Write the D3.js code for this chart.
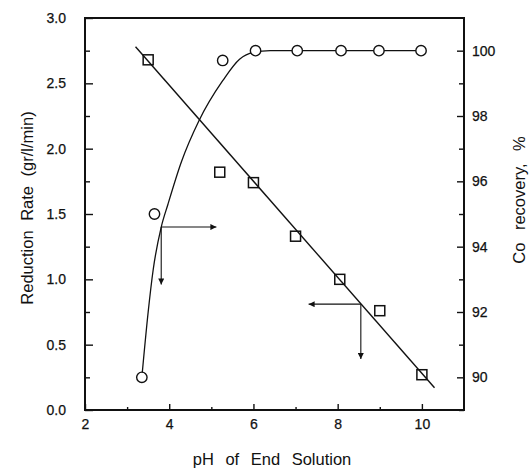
<!DOCTYPE html>
<html>
<head>
<meta charset="utf-8">
<script src="https://cdn.jsdelivr.net/npm/d3@7"></script>
<style>
  html, body { margin: 0; padding: 0; background: #fff; }
  svg { display: block; }
  text { font-family: "Liberation Sans", Arial, Helvetica, sans-serif; fill: #111; }
</style>
</head>
<body>
<svg id="chart" width="532" height="468"></svg>
<script>
// Tick values for the three axes
const phTicks = [2, 4, 6, 8, 10];
const phMinorTicks = [3, 5, 7, 9];
const rateTicks = [0, 0.5, 1.0, 1.5, 2.0, 2.5, 3.0];
const rateMinorTicks = [0.25, 0.75, 1.25, 1.75, 2.25, 2.75];
const recoveryTicks = [90, 92, 94, 96, 98, 100];
const recoveryMinorTicks = [89, 91, 93, 95, 97, 99];

// Reduction rate (squares, left axis)
const ratePH = [3.5, 5.2, 6.0, 7.0, 8.05, 9.0, 10.0];
const rateValues = [2.68, 1.82, 1.74, 1.33, 1.00, 0.76, 0.27];

// Straight fitted line through the reduction rate data
const rateFitPH = [3.2, 10.3];
const rateFitValues = [2.78, 0.17];

// Co recovery (circles, right axis)
const recoveryPH = [3.35, 3.65, 5.27, 6.05, 7.04, 8.08, 8.98, 9.98];
const recoveryValues = [90.0, 95.0, 99.7, 100, 100, 100, 100, 100];

// Smooth recovery curve
const recoveryCurvePH = [3.35, 3.5, 3.62, 3.81, 3.97, 4.29, 4.70, 5.27, 5.67, 6.0, 6.4, 9.98];
const recoveryCurveValues = [90.0, 92.0, 93.3, 94.6, 95.3, 96.6, 97.84, 99.08, 99.74, 99.95, 100, 100];

// Arrow annotations: corner on a curve, horizontal arrow end (pH), vertical arrow end (rate)
const arrowCornerPH = [3.81, 8.55];
const arrowCornerRate = [1.40, 0.81];
const arrowHorizEndPH = [5.12, 7.31];
const arrowVertEndRate = [0.96, 0.39];

const svg = d3.select("#chart");
const plot = { left: 85, right: 464, top: 18, bottom: 410 };

const x = d3.scaleLinear().domain([2, 11]).range([plot.left, plot.right]);
const yRate = d3.scaleLinear().domain([0, 3]).range([plot.bottom, plot.top]);
const yRec = d3.scaleLinear().domain([89, 101]).range([plot.bottom, plot.top]);

const ink = "#111";

// Arrowhead marker
svg.append("defs").append("marker")
  .attr("id", "head")
  .attr("viewBox", "0 0 10 10")
  .attr("refX", 10).attr("refY", 5)
  .attr("markerUnits", "userSpaceOnUse")
  .attr("markerWidth", 9).attr("markerHeight", 6)
  .attr("orient", "auto")
  .append("path")
  .attr("d", "M0,0 L10,5 L0,10 Z")
  .attr("fill", ink);

// Axes: ticks point inward, labels outside
function styleAxis(g) {
  g.select(".domain").remove();
  g.selectAll("line").attr("stroke", ink).attr("stroke-width", 1.4);
  g.selectAll("text").attr("font-size", 14).style("fill", ink)
    .attr("stroke", ink).attr("stroke-width", 0.25);
}

// Bottom axis
svg.append("g")
  .attr("transform", `translate(0,${plot.bottom})`)
  .call(d3.axisBottom(x).tickValues(phTicks).tickFormat(d3.format("d")).tickSizeInner(-6).tickPadding(9))
  .call(styleAxis);
svg.append("g")
  .attr("transform", `translate(0,${plot.bottom})`)
  .call(d3.axisBottom(x).tickValues(phMinorTicks).tickFormat("").tickSizeInner(-3))
  .call(styleAxis);

// Left axis
svg.append("g")
  .attr("transform", `translate(${plot.left},0)`)
  .call(d3.axisLeft(yRate).tickValues(rateTicks).tickFormat(d3.format(".1f")).tickSizeInner(-8).tickPadding(19))
  .call(styleAxis);
svg.append("g")
  .attr("transform", `translate(${plot.left},0)`)
  .call(d3.axisLeft(yRate).tickValues(rateMinorTicks).tickFormat("").tickSizeInner(-5))
  .call(styleAxis);

// Right axis
svg.append("g")
  .attr("transform", `translate(${plot.right},0)`)
  .call(d3.axisRight(yRec).tickValues(recoveryTicks).tickFormat(d3.format("d")).tickSizeInner(-7).tickPadding(8))
  .call(styleAxis);
svg.append("g")
  .attr("transform", `translate(${plot.right},0)`)
  .call(d3.axisRight(yRec).tickValues(recoveryMinorTicks).tickFormat("").tickSizeInner(-5))
  .call(styleAxis);

// Frame
svg.append("rect")
  .attr("x", plot.left).attr("y", plot.top)
  .attr("width", plot.right - plot.left).attr("height", plot.bottom - plot.top)
  .attr("fill", "none").attr("stroke", ink).attr("stroke-width", 2);

// Fitted line for reduction rate
const rateFit = rateFitPH.map((p, i) => [p, rateFitValues[i]]);
svg.append("path")
  .datum(rateFit)
  .attr("d", d3.line().x(d => x(d[0])).y(d => yRate(d[1])))
  .attr("fill", "none").attr("stroke", ink).attr("stroke-width", 1.4);

// Recovery curve
const recCurve = recoveryCurvePH.map((p, i) => [p, recoveryCurveValues[i]]);
svg.append("path")
  .datum(recCurve)
  .attr("d", d3.line().x(d => x(d[0])).y(d => yRec(d[1])).curve(d3.curveMonotoneX))
  .attr("fill", "none").attr("stroke", ink).attr("stroke-width", 1.3);

// Arrows
arrowCornerPH.forEach((p, i) => {
  const cx = x(p), cy = yRate(arrowCornerRate[i]);
  svg.append("line")
    .attr("x1", cx).attr("y1", cy)
    .attr("x2", x(arrowHorizEndPH[i])).attr("y2", cy)
    .attr("stroke", ink).attr("stroke-width", 1.1)
    .attr("marker-end", "url(#head)");
  svg.append("line")
    .attr("x1", cx).attr("y1", cy)
    .attr("x2", cx).attr("y2", yRate(arrowVertEndRate[i]))
    .attr("stroke", ink).attr("stroke-width", 1.1)
    .attr("marker-end", "url(#head)");
});

// Square markers
const sq = 10;
svg.append("g").selectAll("rect")
  .data(ratePH.map((p, i) => [p, rateValues[i]]))
  .join("rect")
  .attr("x", d => x(d[0]) - sq / 2)
  .attr("y", d => yRate(d[1]) - sq / 2)
  .attr("width", sq).attr("height", sq)
  .attr("fill", "none").attr("stroke", ink).attr("stroke-width", 1.5);

// Circle markers
svg.append("g").selectAll("circle")
  .data(recoveryPH.map((p, i) => [p, recoveryValues[i]]))
  .join("circle")
  .attr("cx", d => x(d[0]))
  .attr("cy", d => yRec(d[1]))
  .attr("r", 5.2)
  .attr("fill", "#fff").attr("stroke", ink).attr("stroke-width", 1.4);

// Axis titles
svg.append("text")
  .attr("transform", `translate(33,${(plot.top + 190)}) rotate(-90)`)
  .attr("text-anchor", "middle")
  .attr("font-size", 16.5)
  .attr("word-spacing", 5)
  .text("Reduction Rate (gr/l/min)");

svg.append("text")
  .attr("transform", `translate(525,200) rotate(-90)`)
  .attr("text-anchor", "middle")
  .attr("font-size", 16.5)
  .attr("word-spacing", 8)
  .text("Co recovery, %");

svg.append("text")
  .attr("x", 272).attr("y", 465)
  .attr("text-anchor", "middle")
  .attr("font-size", 16.5)
  .attr("word-spacing", 7)
  .text("pH of End Solution");
</script>
</body>
</html>
